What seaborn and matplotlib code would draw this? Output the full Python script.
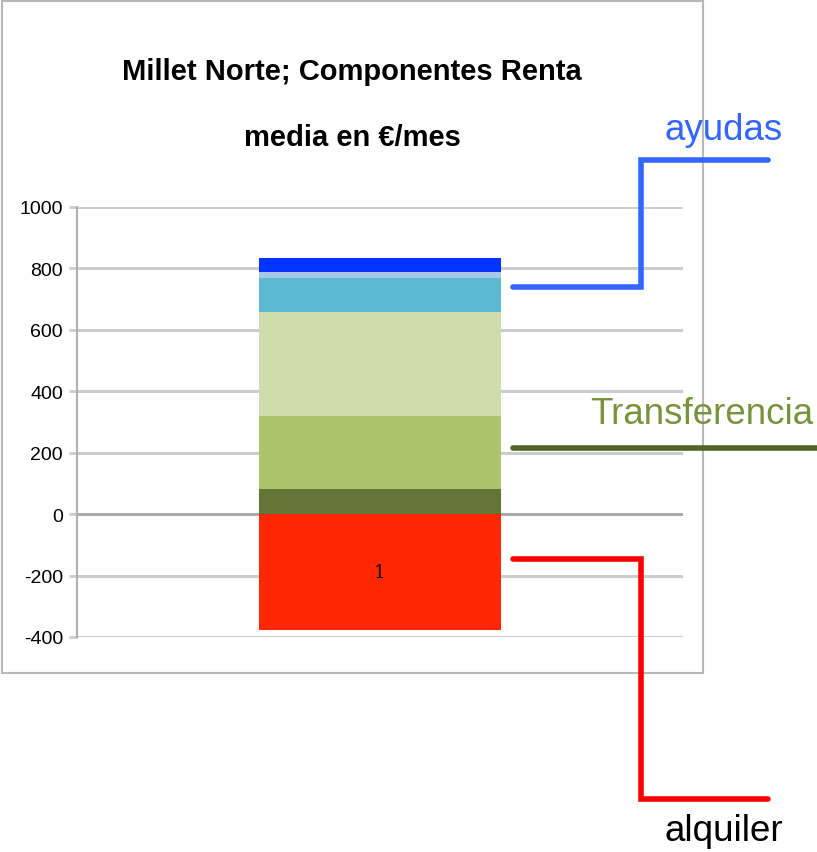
import seaborn as sns
import pandas as pd
import matplotlib
matplotlib.use("Agg")
import matplotlib.pyplot as plt
from matplotlib.lines import Line2D
from matplotlib.patches import Rectangle

# stacked components of the single bar (bottom to top), alquiler is negative
categories = ["1"]
segment_names = ["base", "transferencia", "otros", "pensiones", "extra", "ayudas"]
segment_values = [81, 237, 341, 109, 19, 46]
segment_colors = ["#637537", "#abc46c", "#cddcaa", "#5bb8d0", "#a9c8e8", "#0433ff"]
alquiler_value = [-377]
alquiler_color = "#ff2600"
yticks = [-400, -200, 0, 200, 400, 600, 800, 1000]

W, H = 817, 853

sns.set_theme(style="white")
plt.rcParams['font.family'] = ['Liberation Sans', 'DejaVu Sans']

fig = plt.figure(figsize=(W / 100, H / 100), dpi=100)
ax = fig.add_axes([77 / W, 1 - 638 / H, (683 - 77) / W, (638 - 208) / H])


def px(x, y):                                   # pixel position -> figure fraction
    return x / W, 1 - y / H


# stack the positive parts
bottom = 0
for name, val, col in zip(segment_names, segment_values, segment_colors):
    df = pd.DataFrame({"cat": categories, "val": [val]})
    sns.barplot(data=df, x="cat", y="val", color=col, width=0.4, bottom=bottom,
                saturation=1, linewidth=0, ax=ax, zorder=3)
    bottom += val

df = pd.DataFrame({"cat": categories, "val": alquiler_value})
sns.barplot(data=df, x="cat", y="val", color=alquiler_color, width=0.4,
            saturation=1, linewidth=0, ax=ax, zorder=3)
ax.text(0, alquiler_value[0] * 0.5, categories[0], ha="center", va="center",
        fontsize=13, family="DejaVu Serif", color="black", zorder=4)

ax.set_xlim(-0.5, 0.5)
ax.set_ylim(-400, 1000)
ax.set_yticks(yticks)
ax.set_yticklabels([str(t) for t in yticks], fontsize=14, color="black")
ax.set_xticks([])
ax.set_xlabel("")
ax.set_ylabel("")
ax.yaxis.grid(True, color="#cccccc", linewidth=2.2, zorder=0)
ax.axhline(0, color="#a8a8a8", linewidth=2, zorder=2)
for s in ["top", "right", "bottom"]:
    ax.spines[s].set_visible(False)
ax.spines["left"].set_color("#b0b0b0")
ax.spines["left"].set_linewidth(1.5)
ax.tick_params(axis="y", left=True, length=6, width=2, color="#cccccc", pad=4)

# title
fig.text(*px(352, 72), "Millet Norte; Componentes Renta", ha="center", va="center",
         fontsize=21, fontweight="bold", color="black")
fig.text(*px(352, 138), "media en €/mes", ha="center", va="center",
         fontsize=21, fontweight="bold", color="black")

# chart frame
fig.add_artist(Rectangle(px(2, 674), 701 / W, 672 / H, transform=fig.transFigure,
                         fill=False, edgecolor="#b8b8b8", linewidth=1.5))


def connector(points, color):
    xs, ys = zip(*[px(x, y) for x, y in points])
    fig.add_artist(Line2D(xs, ys, transform=fig.transFigure, color=color,
                          linewidth=4, solid_joinstyle="miter"))


connector([(513, 288), (641, 288), (641, 161), (768, 161)], "#3366ff")
connector([(513, 449), (817, 449)], "#4f6228")
connector([(513, 560), (641, 560), (641, 800), (768, 800)], "#ff0000")

fig.text(*px(724, 130), "ayudas", ha="center", va="center", fontsize=26.5,
         color="#3366ff")
fig.text(*px(702, 415), "Transferencia", ha="center", va="center", fontsize=26.5,
         color="#77933c")
fig.text(*px(724, 832), "alquiler", ha="center", va="center", fontsize=26.5,
         color="black")

fig.savefig("out.png", dpi=100)
